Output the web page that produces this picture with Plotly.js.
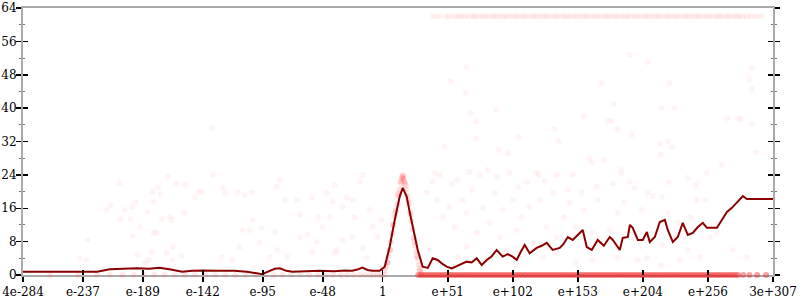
<!DOCTYPE html>
<html>
<head>
<meta charset="utf-8">
<script src="https://cdn.plot.ly/plotly-3.0.1.min.js"></script>
<style>html,body{margin:0;padding:0;background:#fff}#chart{width:800px;height:300px}</style>
</head>
<body>
<div id="chart"></div>
<script>
// x values are decimal exponents (log10 of the value)
const tickVals = [-283.4, -236.2, -189.0, -141.7, -94.5, -47.2, 0, 51.25, 102.5, 153.75, 205.0, 256.25, 307.5];
const tickText = ["4e-284", "e-237", "e-189", "e-142", "e-95", "e-48", "1", "e+51", "e+102", "e+153", "e+204", "e+256", "3e+307"];
const yTicks = [0, 8, 16, 24, 32, 40, 48, 56, 64];

// running mean line
const lineX = [-283.4,-225,-215,-203,-194,-184,-176,-168,-158,-150,-141,-129,-117,-107,-101,-95,-89,-85,-81,-76,-71,-61,-50,-38,-30,-24,-20,-16,-12,-8,-2.4,1.6,5.5,9.5,13.4,15.8,18.9,21.3,23.6,27.6,31.5,35.5,39.4,43.3,47.3,50.4,54.4,60.7,66.2,70.1,74.1,78.0,82.0,85.9,89.8,94.6,98.5,102.4,105.6,108.7,111.9,115.8,121.3,125.3,129.2,133.9,139.5,142.6,145.8,149.7,153.7,157.6,160.8,164.7,169.4,174.2,178.9,181.3,186.8,189.1,193.1,194.7,197.0,201.0,204.9,208.1,210.4,214.4,218.3,222.3,224.6,228.6,232.5,236.4,240.4,244.3,248.3,252.2,255.4,263.3,267.2,271.2,275.1,279.1,283.8,286.9,307.5];
const lineY = [0.8,0.8,1.4,1.5,1.6,1.5,1.75,1.4,0.8,1.0,1.1,1.0,1.0,0.8,0.5,0.2,1.0,1.5,1.6,1.0,0.8,0.9,1.0,0.9,1.1,1.0,1.3,1.8,1.2,1.0,1.0,2.0,6.8,13.2,18.8,20.9,18.8,15.0,11.6,6.0,2.0,1.7,4.0,3.6,2.6,2.0,1.6,2.4,3.2,3.0,4.0,2.4,3.6,4.5,6.0,4.4,5.0,4.4,3.6,5.5,7.2,5.2,6.5,7.0,7.7,6.0,6.5,7.5,9.1,8.4,9.5,10.8,6.7,6.0,8.4,7.0,9.1,8.4,6.0,8.9,9.1,12.0,11.3,8.4,8.4,10.3,7.9,9.1,12.7,13.2,10.8,7.9,9.1,12.5,9.6,10.1,11.5,12.5,11.3,11.3,13.2,15.1,16.1,17.5,18.9,18.2,18.2];

// scattered samples
const cloudX = [-238.8,-233.3,-232.5,-217.5,-214.3,-207.2,-206.5,-203.3,-198.6,-197.8,-197,-194.6,-193.1,-191.5,-187.5,-185.2,-184.4,-182,-181.2,-180.5,-180.5,-178.1,-177.3,-174.9,-174.1,-170.2,-169.4,-167.8,-166.3,-165.5,-165.5,-162.3,-158.4,-156,-156,-148.1,-145,-142.6,-133.9,-126.8,-126,-124.5,-118.2,-114.2,-112.7,-110.3,-108.7,-104.8,-103.2,-102.4,-96.9,-95.3,-89,-85.1,-83.5,-82.7,-81.2,-77.2,-74.9,-67.8,-65.4,-65.4,-59.1,-56,-55.2,-52,-51.2,-47.3,-44.1,-41.8,-39.4,-37.8,-37.8,-36.2,-31.5,-31.5,-28.4,-24.4,-23.6,-22.1,-18.1,-15.8,-15.8,-12.6,-10.2,-7.9,-3.9,-0.8,
 41,39.4,44.9,54.4,59.1,68.5,76.4,82.7,89.8,98.5,100.1,106.4,113.5,121.3,127.6,137.1,145.8,149.7,156.8,164.7,168.6,
 34.7,42.5,47.3,52.8,56.7,63,66.2,70.9,74.1,78.8,84.3,88.3,92.2,94.6,102.4,105.6,109.5,115.8,118.2,123.7,129.2,134,137.1,142.6,147.3,152.1,158.4,164.7,169.4,
 37.0,59.1,82.0,105.6,126.1,152.1,165.5,66.2,97.7,137.1,
 174.2,187.6,188.3,219.1,225.4,240.4,246.7,267.2,255.4,293.9,181.3,194.7,198.6,208.9,212.8,219.9,190.7,204.1,224.6,247.5,253.8,185.2,197.8,210.4,219.9,227.8,234.1,249.9,257.8,263.3,275.9,286.9,185.2,200.9,219.1,178.9,208.1,240.4,232.5,242.7,
 194.7,208.9,290.8,289.2,290.8,182.1,219.9,172.6,226.2,230.1,280,271.3,282.3,290.8,177.3,180.5,185.2,196.3,218.3,227.8,224.6,
 73.3,48.8,66.2,53.6,65.4,69.3,89.8,73.3,-134.7,
 107.2,123,138.7,158.4,91.4,135.5,163.1];
const cloudY = [4,3.6,8.4,15.6,16.8,22,13.4,15.6,13.4,16.3,9.4,17.5,4.8,11.5,2.9,15.1,3.6,5.5,20,17.5,10.1,10.1,21,19.4,13.4,5.3,23.7,13.9,13.2,3.6,6.7,22,4.6,21.6,14.9,18.7,19.9,20,24,4.3,20.9,19.7,3.6,19.7,6.7,10.8,19.2,10.8,19.7,13.2,7.7,11.3,4.3,10.3,21.1,6,22.8,18,4.3,18,14.4,9.1,9.6,18.5,5.5,7.9,13.9,11.5,19.7,13.9,17.5,21.6,5.3,6,8.4,16.3,18.5,9.1,18,13.9,22.3,24,6.5,4.1,15.6,11.5,9.1,13.2,
 24.5,22.5,24,21.9,22.8,24.7,24,25.2,23.5,29.2,24.5,21.1,22.3,24.5,22.5,24,20.4,24,19.7,26.9,21.1,
 19.7,18,13.9,16.3,11.5,18,14.9,20.4,10.1,16.1,12.5,19.7,9.1,15.6,18,10.8,13.9,16.3,7.7,18,11.5,19.7,9.1,13.9,17.3,11.5,15.6,10.1,18,
 6,4.3,3.6,2.4,4.3,2.9,3.6,6.7,6,5.3,
 27.6,25.2,24.2,28.8,22.3,23.3,21.6,26.4,24.5,29.3,22,22.3,20.9,19.7,18.9,18.7,17.5,15.6,14.9,18,18,14.9,10.1,10.1,7.2,9.1,3.6,4.3,9,10.1,6,4.3,4.1,3.6,2.4,10.8,4.1,6,12.5,13.9,
 52.8,51,49.6,47,44.6,41,40,46,46,40,37.6,37.6,37.4,36.2,36.9,36.9,34.8,33.6,31.6,30.7,32.1,32.8,30.7,
 49.9,46.5,43.6,38.8,39.6,36.7,35.2,33.1,24,
 32,38,30,35,28,44,40];

// samples along the narrow peak
const peakX = [1.5,2.5,3.5,4.5,5.5,6.5,7.5,8.5,9.5,10.5,11.5,12.5,13.5,14.5,15.5,16.0,16.5,17.5,18.5,19.5,20.5,21.5,22.5,23.5,24.5,25.5,26.5,27.5,28.5,29.5,30.5,12.0,14.0,15.0,16.2,17.0,18.0,20.0,22.0,8.0,10.0,25.0,4.0,27.0,6.0,29.0];
const peakY = [1,2,3,4.5,6,8,10,12,14,15.5,17,19,20.5,22,23,24,23,22,20.5,19,17,15,13,11,9,7,5.5,4,2.5,1.5,0.5,19.5,22.5,23.5,23.5,22.5,21.5,18,14.5,12,15,8,3,4.5,6,1];

// dense band of samples sitting at zero (right half)
const zeroRightX = [28,30,32,34,36,38,40,42,44,46,48,50,52,54,56,58,60,62,64,66,68,70,72,74,76,78,80,82,84,86,88,90,92,94,96,98,100,102,104,106,108,110,112,114,116,118,120,122,124,126,128,130,132,134,136,138,140,142,144,146,148,150,152,154,156,158,160,162,164,166,168,170,172,174,176,178,180,182,184,186,188,190,192,194,196,198,200,202,204,206,208,210,212,214,216,218,220,222,224,226,228,230,232,234,236,238,240,242,244,246,248,250,252,254,256,258,260,262,264,266,268,270,272,274,276,278,280,284,289,295,302];
// lighter band of samples at zero (left half)
const zeroLeftX = [-262,-240,-225,-215,-205,-196,-188,-180,-172,-164,-156,-148,-140,-132,-124,-116,-108,-100,-93,-86,-79,-72,-65,-58,-51,-45,-39,-33,-28,-23,-18,-14,-10,-7,-4,-1.5,1];
// band of samples saturating near 62
const topX = [40,44,50,53,57,60,62,65,68,71,73,76,79,81,84,87,89,92,95,97,100,103,105,108,111,113,116,119,121,124,127,129,132,135,137,140,143,145,148,151,153,156,159,161,164,167,169,172,175,177,180,183,185,188,191,193,196,199,201,204,207,209,212,215,217,220,223,225,228,231,233,236,239,241,244,247,249,252,255,257,260,263,265,268,271,273,276,279,281,284,287,290,294,298];
const topLevel = 62;

const traces = [
  {x: cloudX, y: cloudY, type: 'scatter', mode: 'markers', cliponaxis: false,
   marker: {size: 6, color: 'rgba(255,60,60,0.055)'}, hoverinfo: 'skip'},
  {x: peakX, y: peakY, type: 'scatter', mode: 'markers', cliponaxis: false,
   marker: {size: 6, color: 'rgba(255,40,40,0.14)'}, hoverinfo: 'skip'},
  {x: zeroLeftX, y: zeroLeftX.map(() => 0), type: 'scatter', mode: 'markers', cliponaxis: false,
   marker: {size: 6, color: 'rgba(255,40,40,0.1)'}, hoverinfo: 'skip'},
  {x: zeroRightX, y: zeroRightX.map(() => 0), type: 'scatter', mode: 'markers', cliponaxis: false,
   marker: {size: 6, color: 'rgba(240,20,20,0.4)'}, hoverinfo: 'skip'},
  {x: topX, y: topX.map(() => topLevel), type: 'scatter', mode: 'markers', cliponaxis: false,
   marker: {size: 6, color: 'rgba(255,60,60,0.08)'}, hoverinfo: 'skip'},
  {x: lineX, y: lineY, type: 'scatter', mode: 'lines', cliponaxis: false,
   line: {color: '#8b0000', width: 2}, hoverinfo: 'skip'},
  {x: [], y: [], xaxis: 'x2', yaxis: 'y2', type: 'scatter', mode: 'markers', hoverinfo: 'skip'}
];

const font = {family: 'DejaVu Serif, serif', size: 12, color: '#000'};
const layout = {
  width: 800, height: 300,
  margin: {l: 23, r: 27, t: 8, b: 25, pad: 0},
  paper_bgcolor: '#fff', plot_bgcolor: '#fff',
  showlegend: false,
  font: font,
  xaxis: {
    range: [-283.4, 307.5], tickmode: 'array', tickvals: tickVals, ticktext: tickText,
    ticks: 'outside', ticklen: 5, tickwidth: 1.5, tickcolor: '#000',
    showline: true, linecolor: '#aaaaaa', linewidth: 2, mirror: true,
    showgrid: false, zeroline: false, layer: 'below traces', tickfont: font
  },
  xaxis2: {
    overlaying: 'x', anchor: 'y', side: 'bottom', range: [-283.4, 307.5],
    tickmode: 'array', tickvals: tickVals, ticks: 'inside', ticklen: 5, tickwidth: 1.5, tickcolor: '#000',
    showticklabels: false, showline: false, showgrid: false, zeroline: false
  },
  yaxis: {
    range: [0, 64], tickmode: 'array', tickvals: yTicks,
    ticks: 'outside', ticklen: 5, tickwidth: 1.5, tickcolor: '#000',
    minor: {dtick: 4, ticks: 'outside', ticklen: 2, tickwidth: 1, tickcolor: '#777', showgrid: false},
    showline: true, linecolor: '#aaaaaa', linewidth: 2, mirror: 'ticks',
    showgrid: false, zeroline: false, layer: 'below traces', tickfont: font, ticklabelstandoff: -3
  },
  yaxis2: {
    overlaying: 'y', anchor: 'x', side: 'left', range: [0, 64], tickmode: 'array', tickvals: yTicks,
    ticks: 'inside', ticklen: 5, tickwidth: 1.5, tickcolor: '#000',
    minor: {dtick: 4, ticks: 'inside', ticklen: 2, tickwidth: 1, tickcolor: '#777', showgrid: false},
    showticklabels: false, showline: false, mirror: 'ticks', showgrid: false, zeroline: false
  }
};

Plotly.newPlot('chart', traces, layout, {displayModeBar: false, staticPlot: true});
</script>
</body>
</html>
